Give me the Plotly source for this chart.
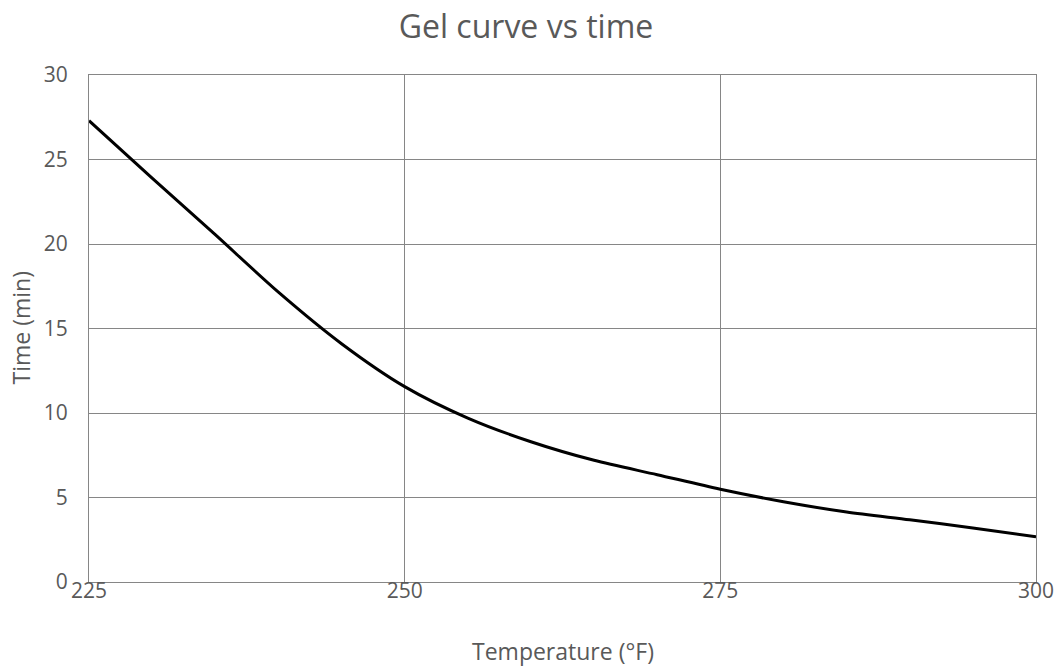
import plotly.graph_objects as go

temperature_f = [225, 230, 235, 240, 245, 250, 255, 260, 265, 270, 275, 280, 285, 290, 295, 300]
time_min = [27.3, 23.9, 20.55, 17.15, 14.1, 11.56, 9.7, 8.3, 7.2, 6.35, 5.49, 4.75, 4.14, 3.68, 3.2, 2.67]

x_ticks = [225, 250, 275, 300]
y_ticks = [0, 5, 10, 15, 20, 25, 30]

text_color = "#595959"
grid_color = "#868686"
font_family = "Open Sans, Liberation Sans, sans-serif"

W, H = 1057, 670
L, R, T, B = 89, 21, 75, 88
plot_w = W - L - R
plot_h = H - T - B

fig = go.Figure()
fig.add_trace(go.Scatter(
    x=temperature_f, y=time_min, mode="lines",
    line=dict(color="#000000", width=3, shape="spline", smoothing=0.8),
    showlegend=False, hoverinfo="skip",
))

fig.update_layout(
    width=W, height=H,
    paper_bgcolor="white", plot_bgcolor="white",
    margin=dict(l=L, r=R, t=T, b=B),
    font=dict(family=font_family, color=text_color, size=21),
    title=dict(text="Gel curve vs time", x=526 / W, xref="container", xanchor="center",
               y=1 - 27 / H, yref="container", yanchor="middle",
               font=dict(size=32, color=text_color, family=font_family)),
    annotations=[
        dict(text="Temperature (°F)", xref="paper", yref="paper",
             x=0.5, y=(T + plot_h - 651) / plot_h, xanchor="center", yanchor="middle",
             showarrow=False, font=dict(size=23, color=text_color, family=font_family)),
        dict(text="Time (min)", xref="paper", yref="paper",
             x=(20 - L) / plot_w, y=0.5, xanchor="center", yanchor="middle", textangle=-90,
             showarrow=False, font=dict(size=23, color=text_color, family=font_family)),
    ],
)

fig.update_xaxes(
    range=[225, 300], tickvals=x_ticks, ticktext=[str(v) for v in x_ticks],
    showgrid=True, gridcolor=grid_color, gridwidth=1,
    showline=True, linecolor=grid_color, linewidth=1, mirror=True,
    ticks="", zeroline=False, ticklabelstandoff=-10, automargin=False,
    tickfont=dict(size=21, color=text_color),
)
fig.update_yaxes(
    range=[0, 30], tickvals=y_ticks, ticktext=[str(v) for v in y_ticks],
    showgrid=True, gridcolor=grid_color, gridwidth=1,
    showline=True, linecolor=grid_color, linewidth=1, mirror=True,
    ticks="", zeroline=False, ticklabelstandoff=16, automargin=False,
    tickfont=dict(size=21, color=text_color),
)

fig.write_html(
    "out.html",
    config={"displayModeBar": False},
    post_script="document.documentElement.style.margin='0';document.body.style.margin='0';document.body.style.padding='0';",
)
